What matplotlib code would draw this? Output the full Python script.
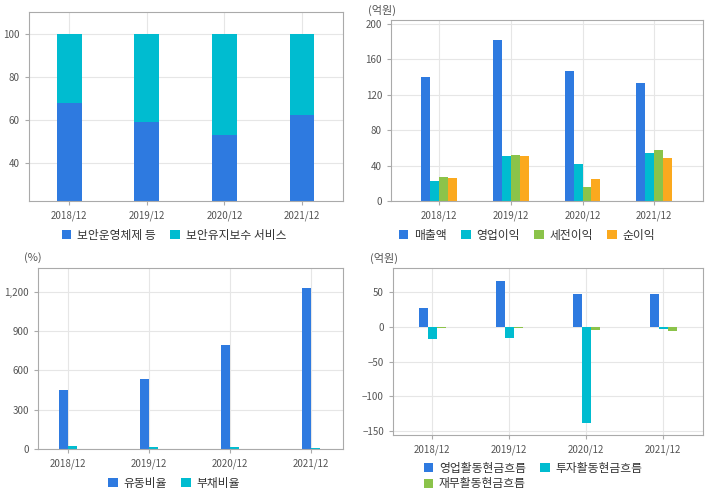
import matplotlib
matplotlib.use("Agg")
import matplotlib.pyplot as plt
import numpy as np

plt.rcParams['font.family'] = ['Noto Sans CJK KR', 'DejaVu Sans']

years = ['2018/12', '2019/12', '2020/12', '2021/12']

# 매출 구성 (%)
ops = [68, 59, 53, 62.3]
maint = [32, 41, 47, 37.7]

# 손익 (억원)
sales = [140, 182, 147, 133]
op_income = [23, 51, 42, 54]
pretax = [27, 52, 16, 58]
net = [26, 51, 25, 49]

# 비율 (%)
current_ratio = [450, 534, 794, 1229]
debt_ratio = [25, 15, 15, 8]

# 현금흐름 (억원)
cf_op = [27, 66, 47, 47]
cf_inv = [-17, -16, -139, -3]
cf_fin = [-2.5, -2.5, -4, -5.5]

BLUE = '#2e7ae0'
CYAN = '#00bcd0'
GREEN = '#8bc34a'
ORANGE = '#fba91e'
TXT = '#555555'

W, H = 720, 496
fig = plt.figure(figsize=(W / 100, H / 100), dpi=100)


def box(x0, y0, x1, y1):
    return [x0 / W, 1 - y1 / H, (x1 - x0) / W, (y1 - y0) / H]


def style(ax):
    for s in ax.spines.values():
        s.set_color('#aaaaaa')
    ax.grid(True, color='#e6e6e6', linewidth=0.8)
    ax.set_axisbelow(True)
    ax.tick_params(colors='#aaaaaa', labelcolor=TXT, labelsize=7, length=3)
    ax.set_xticks(range(len(years)))
    ax.set_xticklabels(years)


def legend(handles, labels, cx, cy, ncol):
    fig.legend(handles, labels, loc='center', bbox_to_anchor=(cx / W, 1 - cy / H),
               ncol=ncol, frameon=False, fontsize=8.5, handlelength=0.8,
               handleheight=0.8, handletextpad=0.5, columnspacing=1.2,
               labelspacing=0.2, labelcolor='#333333')


x = np.arange(len(years))

# panel 1
ax1 = fig.add_axes(box(29, 12, 343, 201))
b1 = ax1.bar(x, ops, 0.32, color=BLUE)
b2 = ax1.bar(x, maint, 0.32, bottom=ops, color=CYAN)
ax1.set_ylim(22.3, 110)
ax1.set_xlim(-0.52, 3.53)
ax1.set_yticks([40, 60, 80, 100])
style(ax1)
legend([b1, b2], ['보안운영체제 등', '보안유지보수 서비스'], 174, 235, 2)

# panel 2
ax2 = fig.add_axes(box(391, 20, 703, 201))
w = 0.125
bars = []
for i, (vals, c) in enumerate([(sales, BLUE), (op_income, CYAN), (pretax, GREEN), (net, ORANGE)]):
    bars.append(ax2.bar(x + (i - 1.5) * w, vals, w, color=c))
ax2.set_ylim(0, 204.5)
ax2.set_xlim(-0.67, 3.68)
ax2.set_yticks([0, 40, 80, 120, 160, 200])
style(ax2)
fig.text(368 / W, 1 - 10 / H, '(억원)', fontsize=8, color=TXT, va='center')
legend(bars, ['매출액', '영업이익', '세전이익', '순이익'], 527, 235, 4)

# panel 3
ax3 = fig.add_axes(box(38, 268, 343, 449))
w3 = 0.11
c1 = ax3.bar(x - w3 / 2, current_ratio, w3, color=BLUE)
c2 = ax3.bar(x + w3 / 2, debt_ratio, w3, color=CYAN)
ax3.set_ylim(0, 1383)
ax3.set_xlim(-0.37, 3.4)
ax3.set_yticks([0, 300, 600, 900, 1200])
ax3.set_yticklabels(['0', '300', '600', '900', '1,200'])
style(ax3)
fig.text(24 / W, 1 - 258 / H, '(%)', fontsize=8, color=TXT, va='center')
legend([c1, c2], ['유동비율', '부채비율'], 174, 483, 2)

# panel 4
ax4 = fig.add_axes(box(393, 268, 703, 435))
w4 = 0.117
bars4 = []
for i, (vals, c) in enumerate([(cf_op, BLUE), (cf_inv, CYAN), (cf_fin, GREEN)]):
    bars4.append(ax4.bar(x + (i - 1) * w4, vals, w4, color=c))
ax4.set_ylim(-155.7, 84.5)
ax4.set_xlim(-0.51, 3.52)
ax4.set_yticks([-150, -100, -50, 0, 50])
style(ax4)
fig.text(370 / W, 1 - 258 / H, '(억원)', fontsize=8, color=TXT, va='center')
# legend fills column-wise, so order handles to read row by row
legend([bars4[0], bars4[2], bars4[1]],
       ['영업활동현금흐름', '재무활동현금흐름', '투자활동현금흐름'], 533, 476, 2)

fig.savefig('out.png', dpi=100)
